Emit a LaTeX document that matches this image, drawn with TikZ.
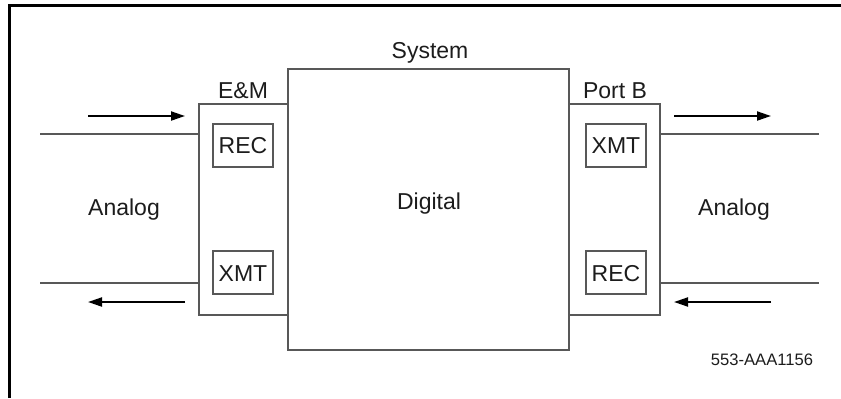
\documentclass[tikz,border=0pt]{standalone}
\usepackage{fontspec}
\setmainfont{Liberation Sans}
\usetikzlibrary{arrows.meta,calc}
\definecolor{linegray}{RGB}{88,88,88}
\definecolor{inkc}{RGB}{28,28,28}

\begin{document}
\begin{tikzpicture}[x=0.5pt, y=-0.5pt,
  frame/.style={line width=1.75pt, black},
  portbox/.style={draw=linegray, line width=1pt, minimum width=44.5pt, minimum height=105.5pt, inner sep=0pt},
  sysbox/.style={draw=linegray, line width=1pt, minimum width=140.5pt, minimum height=140.5pt, inner sep=0pt},
  unitbox/.style={draw=linegray, line width=0.9pt, minimum width=30pt, minimum height=21.5pt, inner sep=0pt, text=inkc, font=\fontsize{11.5}{13}\selectfont},
  lbl/.style={anchor=base, inner sep=0pt, text=inkc, font=\fontsize{11.5}{13}\selectfont},
  wire/.style={linegray, line width=1pt},
  sig/.style={-{Triangle[length=7pt, width=4.5pt]}, line width=1pt, black},
]
\useasboundingbox (0,0) rectangle (841,398);

% ============ frame ============
\draw[frame] (9.5,398) |- (841,5.5);

% ============ boxes ============
\node[sysbox] (sys) at (428.5,209.5) {};
\node[portbox] (em) at (243.5,209.5) {};
\node[portbox, minimum width=45.5pt] (portb) at (614.5,209.5) {};

\node[unitbox] (recL) at (243,145.5) {};
\node[unitbox] (xmtL) at (243,272.5) {};
\node[unitbox] (xmtR) at (616,145.5) {};
\node[unitbox] (recR) at (616,272.5) {};

% ============ labels ============
\node[lbl] (syslbl) at (430,58) {System};
\node[lbl] (emlbl) at (243,98) {E\&M};
\node[lbl] (pblbl) at (615,98) {Port B};
\node[lbl] (diglbl) at (429,209) {Digital};
\node[lbl] (anL) at (124,215) {Analog};
\node[lbl] (anR) at (734,215) {Analog};
\node[lbl] at (recL.center |- 0,153) {REC};
\node[lbl] at (xmtL.center |- 0,281) {XMT};
\node[lbl] at (xmtR.center |- 0,153) {XMT};
\node[lbl] at (recR.center |- 0,281) {REC};
\node[lbl, font=\fontsize{8.3}{10}\selectfont] (figno) at (762,365) {553-AAA1156};

% ============ analog lines ============
\coordinate (inL) at (40,134);
\coordinate (outL) at (40,283);
\coordinate (outR) at (819,134);
\coordinate (inR) at (819,283);
\draw[wire] (inL) -- (inL -| em.west);
\draw[wire] (outL) -- (outL -| em.west);
\draw[wire] (portb.east |- outR) -- (outR);
\draw[wire] (portb.east |- inR) -- (inR);

% ============ direction arrows ============
\coordinate (aL1) at (88,116);  \coordinate (aL2) at (185,116);
\coordinate (bL1) at (185,302); \coordinate (bL2) at (88,302);
\coordinate (aR1) at (674,116); \coordinate (aR2) at (771,116);
\coordinate (bR1) at (771,302); \coordinate (bR2) at (674,302);
\draw[sig] (aL1) -- (aL2);
\draw[sig] (bL1) -- (bL2);
\draw[sig] (aR1) -- (aR2);
\draw[sig] (bR1) -- (bR2);
\end{tikzpicture}
\end{document}
